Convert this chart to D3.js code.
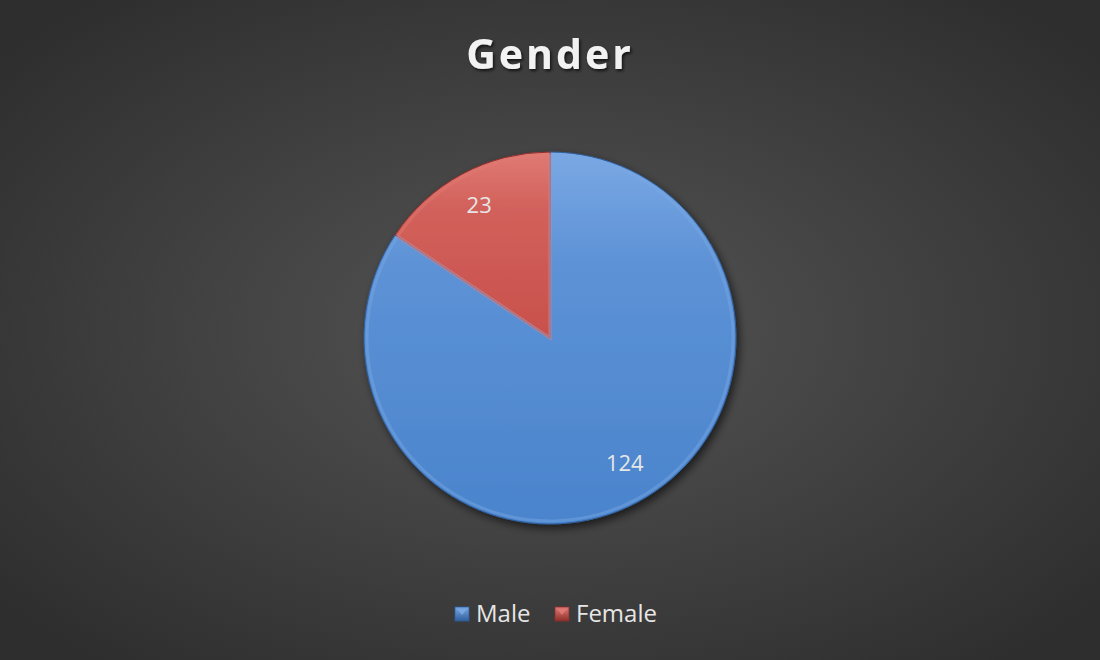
<!DOCTYPE html>
<html><head><meta charset="utf-8">
<script src="https://cdn.jsdelivr.net/npm/d3@7"></script>
<style>html,body{margin:0;padding:0;background:#2f2f2f;}svg{display:block;}</style>
</head><body>
<script>
const categories = ["Male", "Female"];
const values = [124, 23];
const colors = ["#4a84cc", "#c9504b"];
const lightColors = ["#7aa8e4", "#e07a74"];
const darkColors = ["#2f5f9e", "#8e2f2b"];
const title = "Gender";

const W = 1100, H = 660;
const svg = d3.select("body").append("svg").attr("width", W).attr("height", H);
const defs = svg.append("defs");

const bg = defs.append("radialGradient").attr("id", "bg").attr("cx", "50%").attr("cy", "50%").attr("r", "65%");
bg.append("stop").attr("offset", "0%").attr("stop-color", "#555555");
bg.append("stop").attr("offset", "100%").attr("stop-color", "#2e2e2e");
svg.append("rect").attr("width", W).attr("height", H).attr("fill", "url(#bg)");

const shadow = defs.append("filter").attr("id", "shadow").attr("x", "-20%").attr("y", "-20%").attr("width", "140%").attr("height", "140%");
shadow.append("feDropShadow").attr("dx", 3).attr("dy", 4).attr("stdDeviation", 4).attr("flood-color", "#000").attr("flood-opacity", 0.6);

const tshadow = defs.append("filter").attr("id", "tshadow");
tshadow.append("feDropShadow").attr("dx", 1.5).attr("dy", 2).attr("stdDeviation", 1.5).attr("flood-color", "#000").attr("flood-opacity", 0.7);

categories.forEach((c, i) => {
  const g = defs.append("linearGradient").attr("id", "grad" + i).attr("x1", "0").attr("y1", "0").attr("x2", "0").attr("y2", "1");
  g.append("stop").attr("offset", "0%").attr("stop-color", lightColors[i]).attr("stop-opacity", 1);
  g.append("stop").attr("offset", "30%").attr("stop-color", d3.interpolateRgb(lightColors[i], colors[i])(0.6));
  g.append("stop").attr("offset", "100%").attr("stop-color", colors[i]);
  const m = defs.append("linearGradient").attr("id", "mk" + i).attr("x1", "0").attr("y1", "0").attr("x2", "0").attr("y2", "1");
  m.append("stop").attr("offset", "0%").attr("stop-color", lightColors[i]);
  m.append("stop").attr("offset", "100%").attr("stop-color", darkColors[i]);
});

const cx = 550, cy = 338, R = 186;
const pie = d3.pie().sort(null).value(d => d)(values);
const arc = d3.arc().innerRadius(0).outerRadius(R);
const bevelArc = d3.arc().innerRadius(0).outerRadius(R - 3);
const labelArc = d3.arc().innerRadius(150).outerRadius(150);

const pg = svg.append("g").attr("transform", `translate(${cx},${cy})`);
pg.append("g").attr("filter", "url(#shadow)").selectAll("path").data(pie).join("path")
  .attr("d", arc).attr("fill", (d, i) => `url(#grad${i})`)
  .attr("stroke", (d, i) => darkColors[i]).attr("stroke-width", 1);
pg.append("g").selectAll("path").data(pie).join("path")
  .attr("d", bevelArc).attr("fill", "none")
  .attr("stroke", (d, i) => lightColors[i]).attr("stroke-opacity", 0.45).attr("stroke-width", 3);

pg.selectAll("text.lbl").data(pie).join("text").attr("class", "lbl")
  .attr("transform", d => { const p = labelArc.centroid(d); return `translate(${p[0]},${p[1]})`; })
  .attr("dy", d => d.index === 0 ? "0.05em" : "0.35em")
  .attr("dx", d => d.index === 0 ? "4" : "0")
  .attr("text-anchor", "middle").attr("fill", "#e6e6e6")
  .attr("font-family", "Open Sans, sans-serif").attr("font-size", 22)
  .text(d => d.data);

svg.append("text").attr("x", W / 2).attr("y", 69).attr("text-anchor", "middle")
  .attr("fill", "#f2f2f2").attr("font-family", "Open Sans, sans-serif").attr("font-weight", 700)
  .attr("font-size", 41).attr("letter-spacing", 3).attr("filter", "url(#tshadow)").text(title);

const legend = svg.append("g").attr("transform", "translate(0,614)");
const items = [{x: 455, tx: 476}, {x: 555, tx: 576}];
categories.forEach((c, i) => {
  legend.append("rect").attr("x", items[i].x).attr("y", -7).attr("width", 14).attr("height", 14)
    .attr("fill", `url(#mk${i})`).attr("stroke", darkColors[i]).attr("stroke-width", 0.8);
  legend.append("path").attr("d", `M${items[i].x + 2},${-5} L${items[i].x + 12},${-5} L${items[i].x + 7},${1} Z`)
    .attr("fill", lightColors[i]).attr("opacity", 0.9);
  legend.append("text").attr("x", items[i].tx).attr("y", 0).attr("dy", "0.35em")
    .attr("fill", "#e6e6e6").attr("font-family", "Open Sans, sans-serif").attr("font-size", 24).text(c);
});
</script>
</body></html>
